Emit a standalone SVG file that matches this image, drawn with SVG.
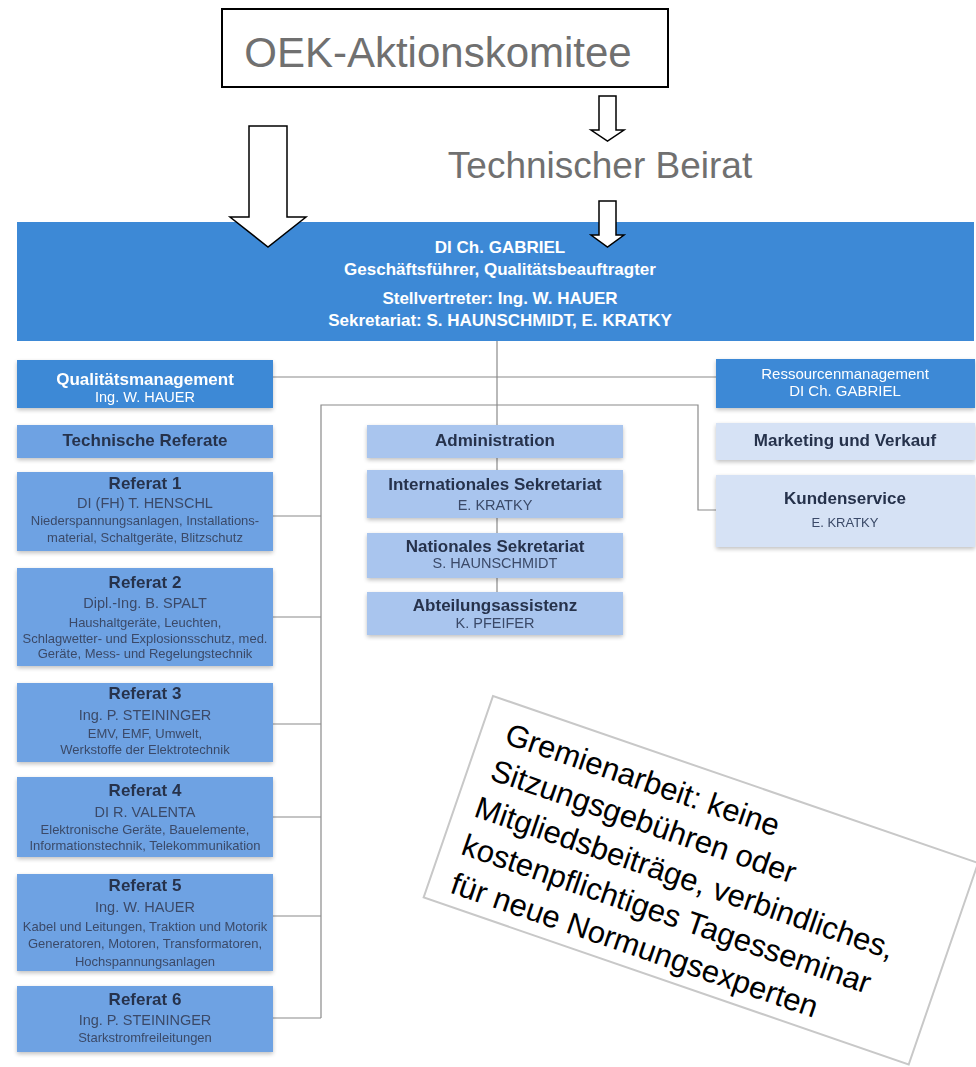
<svg xmlns="http://www.w3.org/2000/svg" width="976" height="1067" viewBox="0 0 976 1067">
<style>
.t{font-family:"Liberation Sans",Arial,sans-serif;text-anchor:middle}
.w{fill:#ffffff}
.d{fill:#26324c}
.g{fill:#3b4a68}
.b{font-weight:bold}
.ti{font-size:17px;font-weight:bold}
.nm{font-size:14.5px}
.ds{font-size:13px}
.conn{stroke:#8a8a8a;stroke-width:1.2;fill:none}
.arr{fill:#ffffff;stroke:#000000;stroke-width:1.5}
.mid{fill:#3d89d6}
.ref{fill:#6ea2e3}
.lt{fill:#a9c5ee}
.pale{fill:#d6e2f5}
</style>
<defs>
<filter id="sh" x="-5%" y="-10%" width="110%" height="130%">
<feGaussianBlur in="SourceAlpha" stdDeviation="2"/>
<feOffset dx="0" dy="2"/>
<feComponentTransfer><feFuncA type="linear" slope="0.25"/></feComponentTransfer>
<feMerge><feMergeNode/><feMergeNode in="SourceGraphic"/></feMerge>
</filter>
</defs>
<rect width="976" height="1067" fill="#ffffff"/>

<g id="connectors">
<line class="conn" x1="497" y1="336" x2="497" y2="593"/>
<line class="conn" x1="273" y1="377" x2="716" y2="377"/>
<polyline class="conn" points="321,1018 321,405 698,405 698,510 716,510"/>
<line class="conn" x1="273" y1="516" x2="321" y2="516"/>
<line class="conn" x1="273" y1="617" x2="321" y2="617"/>
<line class="conn" x1="273" y1="724" x2="321" y2="724"/>
<line class="conn" x1="273" y1="817" x2="321" y2="817"/>
<line class="conn" x1="273" y1="916" x2="321" y2="916"/>
<line class="conn" x1="273" y1="1018" x2="321" y2="1018"/>
</g>

<g id="oek">
<rect x="222" y="9" width="446" height="78" fill="#ffffff" stroke="#000000" stroke-width="2"/>
<text class="t" x="438" y="67" font-size="42" fill="#707070">OEK-Aktionskomitee</text>
</g>

<g id="beirat">
<text class="t" x="600" y="178" font-size="37" fill="#707070">Technischer Beirat</text>
</g>

<g id="header">
<rect class="mid" x="17" y="222" width="957" height="119"/>
<text class="t w b" x="500" y="253" font-size="17">DI Ch. GABRIEL</text>
<text class="t w b" x="500" y="275" font-size="17">Geschäftsführer, Qualitätsbeauftragter</text>
<text class="t w b" x="500" y="304" font-size="17">Stellvertreter: Ing. W. HAUER</text>
<text class="t w b" x="500" y="326" font-size="17">Sekretariat: S. HAUNSCHMIDT, E. KRATKY</text>
</g>

<g id="arrows">
<polygon class="arr" points="249,126 287,126 287,217 306,217 268,247 230,217 249,217"/>
<polygon class="arr" points="599,96 616,96 616,130 624,130 607.5,141 591,130 599,130"/>
<polygon class="arr" points="599,201 616,201 616,235 624,235 607.5,247 591,235 599,235"/>
</g>

<g id="qm" filter="url(#sh)">
<rect class="mid" x="17" y="360" width="256" height="48"/>
<text class="t w ti" x="145" y="385">Qualitätsmanagement</text>
<text class="t w nm" x="145" y="402">Ing. W. HAUER</text>
</g>

<g id="techref" filter="url(#sh)">
<rect class="ref" x="17" y="425" width="256" height="33"/>
<text class="t d ti" x="145" y="446">Technische Referate</text>
</g>

<g id="referat1" filter="url(#sh)">
<rect class="ref" x="17" y="472" width="256" height="79"/>
<text class="t d ti" x="145" y="489">Referat 1</text>
<text class="t g nm" x="145" y="508">DI (FH) T. HENSCHL</text>
<text class="t g ds" x="145" y="524.5">Niederspannungsanlagen, Installations-</text>
<text class="t g ds" x="145" y="541.5">material, Schaltgeräte, Blitzschutz</text>
</g>

<g id="referat2" filter="url(#sh)">
<rect class="ref" x="17" y="568" width="256" height="98"/>
<text class="t d ti" x="145" y="588">Referat 2</text>
<text class="t g nm" x="145" y="608">Dipl.-Ing. B. SPALT</text>
<text class="t g ds" x="145" y="626.5">Haushaltgeräte, Leuchten,</text>
<text class="t g ds" x="145" y="642.5">Schlagwetter- und Explosionsschutz, med.</text>
<text class="t g ds" x="145" y="657.5">Geräte, Mess- und Regelungstechnik</text>
</g>

<g id="referat3" filter="url(#sh)">
<rect class="ref" x="17" y="683" width="256" height="79"/>
<text class="t d ti" x="145" y="699">Referat 3</text>
<text class="t g nm" x="145" y="720">Ing. P. STEININGER</text>
<text class="t g ds" x="145" y="737.5">EMV, EMF, Umwelt,</text>
<text class="t g ds" x="145" y="753.5">Werkstoffe der Elektrotechnik</text>
</g>

<g id="referat4" filter="url(#sh)">
<rect class="ref" x="17" y="777" width="256" height="80"/>
<text class="t d ti" x="145" y="796">Referat 4</text>
<text class="t g nm" x="145" y="817">DI R. VALENTA</text>
<text class="t g ds" x="145" y="833.5">Elektronische Geräte, Bauelemente,</text>
<text class="t g ds" x="145" y="849.5">Informationstechnik, Telekommunikation</text>
</g>

<g id="referat5" filter="url(#sh)">
<rect class="ref" x="17" y="874" width="256" height="97"/>
<text class="t d ti" x="145" y="891">Referat 5</text>
<text class="t g nm" x="145" y="912">Ing. W. HAUER</text>
<text class="t g ds" x="145" y="930.5">Kabel und Leitungen, Traktion und Motorik</text>
<text class="t g ds" x="145" y="947.5">Generatoren, Motoren, Transformatoren,</text>
<text class="t g ds" x="145" y="966">Hochspannungsanlagen</text>
</g>

<g id="referat6" filter="url(#sh)">
<rect class="ref" x="17" y="986" width="256" height="66"/>
<text class="t d ti" x="145" y="1005">Referat 6</text>
<text class="t g nm" x="145" y="1025">Ing. P. STEININGER</text>
<text class="t g ds" x="145" y="1041.5">Starkstromfreileitungen</text>
</g>

<g id="administration" filter="url(#sh)">
<rect class="lt" x="367" y="425" width="256" height="33"/>
<text class="t d ti" x="495" y="446">Administration</text>
</g>

<g id="intsek" filter="url(#sh)">
<rect class="lt" x="367" y="470" width="256" height="48"/>
<text class="t d ti" x="495" y="490">Internationales Sekretariat</text>
<text class="t g nm" x="495" y="510">E. KRATKY</text>
</g>

<g id="natsek" filter="url(#sh)">
<rect class="lt" x="367" y="533" width="256" height="45"/>
<text class="t d ti" x="495" y="552">Nationales Sekretariat</text>
<text class="t g nm" x="495" y="568">S. HAUNSCHMIDT</text>
</g>

<g id="assistenz" filter="url(#sh)">
<rect class="lt" x="367" y="592" width="256" height="43"/>
<text class="t d ti" x="495" y="611">Abteilungsassistenz</text>
<text class="t g nm" x="495" y="628">K. PFEIFER</text>
</g>

<g id="ressourcen" filter="url(#sh)">
<rect class="mid" x="716" y="359" width="259" height="49"/>
<text class="t w" x="845" y="378.5" font-size="15">Ressourcenmanagement</text>
<text class="t w" x="845" y="395.5" font-size="15">DI Ch. GABRIEL</text>
</g>

<g id="marketing" filter="url(#sh)">
<rect class="pale" x="716" y="423" width="259" height="37"/>
<text class="t d ti" x="845" y="446">Marketing und Verkauf</text>
</g>

<g id="kundenservice" filter="url(#sh)">
<rect class="pale" x="716" y="475" width="259" height="72"/>
<text class="t d ti" x="845" y="504">Kundenservice</text>
<text class="t g" x="845" y="526.5" font-size="13">E. KRATKY</text>
</g>

<g id="note" transform="translate(493,696) rotate(19)">
<rect x="0" y="0" width="513" height="213" fill="#ffffff" stroke="#c8c8c8" stroke-width="2"/>
<g font-family="'Liberation Sans',Arial,sans-serif" font-size="31" fill="#000000">
<text x="25" y="41">Gremienarbeit: keine</text>
<text x="23" y="80">Sitzungsgebühren oder</text>
<text x="20" y="120">Mitgliedsbeiträge, verbindliches,</text>
<text x="20" y="160">kostenpflichtiges Tagesseminar</text>
<text x="22" y="200">für neue Normungsexperten</text>
</g>
</g>
</svg>
